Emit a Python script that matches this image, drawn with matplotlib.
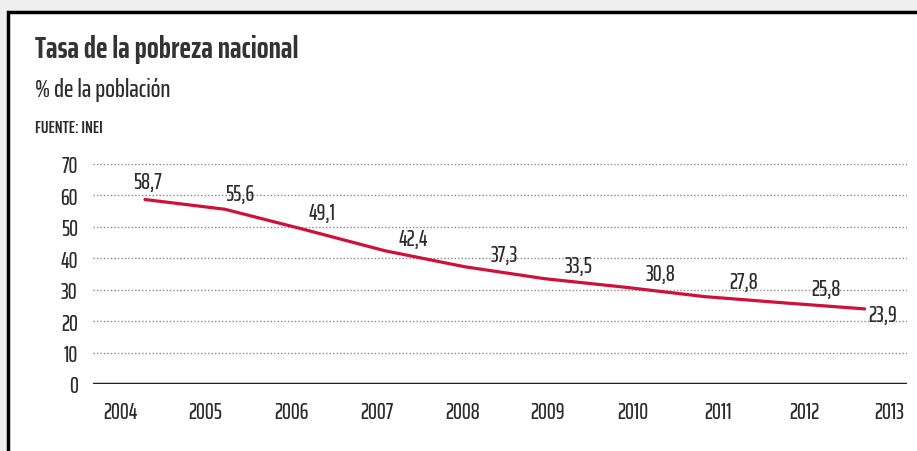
import matplotlib.pyplot as plt
from matplotlib.patches import Rectangle
import numpy as np

years = ["2004", "2005", "2006", "2007", "2008", "2009", "2010", "2011", "2012", "2013"]
pobreza = [58.7, 55.6, 49.1, 42.4, 37.3, 33.5, 30.8, 27.8, 25.8, 23.9]
value_labels = ["58,7", "55,6", "49,1", "42,4", "37,3", "33,5", "30,8", "27,8", "25,8", "23,9"]
y_ticks = [0, 10, 20, 30, 40, 50, 60, 70]

FONT = ["Saira ExtraCondensed", "DejaVu Sans"]
TEXT = "#2b2b2b"
RED = "#d0103a"

plt.rcParams["font.family"] = FONT

fig = plt.figure(figsize=(9.17, 4.52), dpi=100, facecolor="#efefef")

# white panel with black frame (left and top edges visible)
fig.patches.append(Rectangle((8 / 917, -0.05), 1.0, 0.05 + (452 - 13) / 452,
                             transform=fig.transFigure, facecolor="white",
                             edgecolor="black", linewidth=2.5, zorder=-1))

fig.text(35 / 917, 1 - 50 / 452, "Tasa de la pobreza nacional", fontsize=22.5,
         fontweight="bold", color="#333333", va="center", ha="left")
fig.text(35 / 917, 1 - 90 / 452, "% de la población", fontsize=18.5,
         fontweight=500, color=TEXT, va="center", ha="left")
fig.text(35 / 917, 1 - 128 / 452, "FUENTE: INEI", fontsize=13,
         fontweight=600, color=TEXT, va="center", ha="left")

ax = fig.add_axes([93 / 917, (452 - 385) / 452, (907 - 93) / 917, (385 - 165) / 452])
ax.set_facecolor("none")
x = np.arange(len(years))

for v in y_ticks[1:]:
    ax.axhline(v, color="#8a8a8a", lw=1.0, ls=(0, (1, 1.5)), zorder=1)
ax.axhline(0, color="#222222", lw=2.5, zorder=2)

ax.plot(x, pobreza, color=RED, lw=2.3, solid_joinstyle="round",
        solid_capstyle="round", zorder=3)

# label offsets (px) of the text baseline relative to each point
offs = [(2, 12), (15, 9), (17, 11), (28, 6), (39, 6), (34, 7), (36, 7), (39, 9), (41, 8), (18, -12)]
for xi, yi, lab, (dx, dy) in zip(x, pobreza, value_labels, offs):
    ax.annotate(lab, (xi, yi), xytext=(dx * 0.72, dy * 0.72), textcoords="offset points",
                ha="center", va="baseline",
                fontsize=16, fontweight=500, color=TEXT, zorder=4)

ax.set_xlim(-0.65, 9.53)
ax.set_ylim(0, 70)
ax.set_yticks(y_ticks)
ax.set_yticklabels([str(v) for v in y_ticks])
ax.set_xticks(np.linspace(-0.31, 9.31, len(years)))
ax.set_xticklabels(years)
ax.tick_params(axis="both", length=0, labelsize=16, labelcolor=TEXT)
for lab in ax.get_xticklabels() + ax.get_yticklabels():
    lab.set_fontweight(500)
ax.tick_params(axis="y", pad=11)
ax.tick_params(axis="x", pad=12)
for s in ax.spines.values():
    s.set_visible(False)

fig.savefig("out.png", dpi=100, facecolor=fig.get_facecolor())
